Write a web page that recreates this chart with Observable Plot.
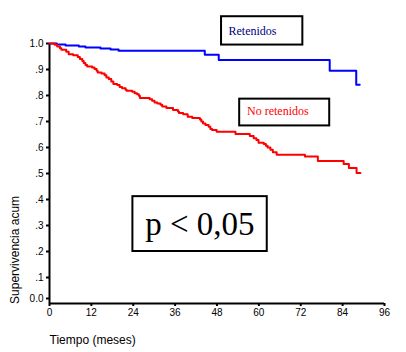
<!DOCTYPE html>
<html>
<head>
<meta charset="utf-8">
<script src="https://cdn.jsdelivr.net/npm/d3@7"></script>
<script src="https://cdn.jsdelivr.net/npm/@observablehq/plot@0.6"></script>
<style>
  html, body { margin: 0; padding: 0; background: #fff; }
  #chart svg { display: block; }
</style>
</head>
<body>
<div id="chart"></div>
<script>
// ---- data ----
const xTicks = [0, 12, 24, 36, 48, 60, 72, 84, 96];
const yTicks = [0.1, 0.2, 0.3, 0.4, 0.5, 0.6, 0.7, 0.8, 0.9, 1.0];
const yTickLabels = [".1", ".2", ".3", ".4", ".5", ".6", ".7", ".8", ".9", "1.0"];
const yZeroLabel = "0.0";

const retenidosT = [0, 2.1, 4.6, 8.4, 10.3, 14.6, 17.5, 19.8, 44.5, 48.5, 80.3, 87.9, 88.9];
const retenidosS = [1, 0.996, 0.992, 0.988, 0.985, 0.981, 0.977, 0.972, 0.957, 0.937, 0.895, 0.841, 0.841];

const noRetenidosT = [0, 1.5, 2.2, 3.0, 3.4, 4.8, 5.5, 6.8, 8.1, 8.7, 9.4, 9.8, 10.3, 10.8, 12.2, 12.9, 13.5, 13.8, 14.9, 15.8,
  16.3, 17.0, 17.7, 18.3, 19.4, 20.1, 20.8, 21.8, 22.1, 23.7, 24.4, 25.1, 25.6, 25.9, 28.7, 29.4, 30.1, 30.9, 31.8, 32.3,
  33.5, 35.4, 36.8, 37.1, 38.3, 39.6, 40.9, 43.1, 43.5, 44.0, 44.7, 45.6, 46.1, 46.6, 47.9, 53.3, 57.4, 58.5, 59.3, 59.9,
  61.4, 62.0, 62.5, 63.3, 64.0, 65.1, 73.2, 76.9, 84.3, 85.8, 88.0, 89.1];
const noRetenidosS = [1, 0.995, 0.988, 0.982, 0.976, 0.968, 0.959, 0.955, 0.948, 0.940, 0.933, 0.925, 0.917, 0.912, 0.908, 0.902, 0.895, 0.888, 0.885, 0.878,
  0.869, 0.863, 0.854, 0.844, 0.840, 0.833, 0.828, 0.822, 0.818, 0.814, 0.809, 0.805, 0.799, 0.790, 0.786, 0.780, 0.773, 0.769, 0.764, 0.758,
  0.752, 0.744, 0.738, 0.733, 0.728, 0.718, 0.713, 0.708, 0.700, 0.692, 0.687, 0.680, 0.671, 0.667, 0.661, 0.652, 0.644, 0.636, 0.629, 0.618,
  0.613, 0.607, 0.600, 0.591, 0.582, 0.572, 0.565, 0.548, 0.537, 0.521, 0.502, 0.502];

// annotation boxes (data units: months, survival)
const boxNames = ["Retenidos", "No retenidos", "p < 0,05"];
const boxX1 = [49.3, 54.5, 23.9];
const boxX2 = [72.6, 80.3, 62.4];
const boxY1 = [0.994, 0.683, 0.200];
const boxY2 = [1.103, 0.786, 0.411];
const labelX = [51.3, 56.6, 43.1];
const labelY = [1.049, 0.741, 0.303];

const xTitle = "Tiempo (meses)";
const yTitle = "Supervivencia acum";

// ---- build ----
const ret = retenidosT.map((t, i) => ({t, s: retenidosS[i]}));
const noRet = noRetenidosT.map((t, i) => ({t, s: noRetenidosS[i]}));
const boxes = boxNames.map((name, i) => ({name, x1: boxX1[i], x2: boxX2[i], y1: boxY1[i], y2: boxY2[i], lx: labelX[i], ly: labelY[i]}));

const serif = "'Liberation Serif', 'Times New Roman', serif";

const chart = Plot.plot({
  width: 406,
  height: 352,
  marginLeft: 49,
  marginRight: 22,
  marginTop: 43,
  marginBottom: 49,
  style: {fontFamily: "'Liberation Sans', Arial, sans-serif", fontSize: "10px", background: "#fff", color: "#000"},
  x: {domain: [0, 96]},
  y: {domain: [0, 1]},
  marks: [
    Plot.axisX({ticks: xTicks, tickSize: 3, tickPadding: 2, strokeWidth: 2, label: null, fontSize: 10}),
    Plot.axisY({ticks: yTicks, tickSize: 3, tickPadding: 3, strokeWidth: 2, label: null, fontSize: 10,
      tickFormat: d => yTickLabels[Math.round(d * 10) - 1]}),
    Plot.axisY({ticks: [0], tickSize: 3, tickPadding: 3, strokeWidth: 2, label: null, fontSize: 10, dy: -5,
      tickFormat: () => yZeroLabel}),
    Plot.ruleX([0], {y1: 0, y2: 1, strokeWidth: 2}),
    Plot.ruleY([0], {x1: 0, x2: 96, strokeWidth: 2}),
    Plot.line(ret, {x: "t", y: "s", curve: "step-after", stroke: "#0000ff", strokeWidth: 2}),
    Plot.line(noRet, {x: "t", y: "s", curve: "step-after", stroke: "#ff0000", strokeWidth: 2}),
    Plot.rect(boxes, {x1: "x1", x2: "x2", y1: "y1", y2: "y2", fill: "#fff", stroke: "#000", strokeWidth: 2}),
    Plot.text([boxes[0]], {x: "lx", y: "ly", text: "name", textAnchor: "start", fill: "#000080", fontSize: 12, fontFamily: serif}),
    Plot.text([boxes[1]], {x: "lx", y: "ly", text: "name", textAnchor: "start", fill: "#ff0000", fontSize: 12, fontFamily: serif}),
    Plot.text([boxes[2]], {x: "lx", y: "ly", text: "name", textAnchor: "middle", fill: "#000", fontSize: 33, fontFamily: serif}),
    Plot.text([yTitle], {y: 0.206, frameAnchor: "left", dx: -34, rotate: -90, textAnchor: "middle", fontSize: 12}),
    Plot.text([xTitle], {frameAnchor: "bottom-left", dy: 40, textAnchor: "start", fontSize: 12})
  ]
});
document.getElementById("chart").appendChild(chart);
</script>
</body>
</html>
